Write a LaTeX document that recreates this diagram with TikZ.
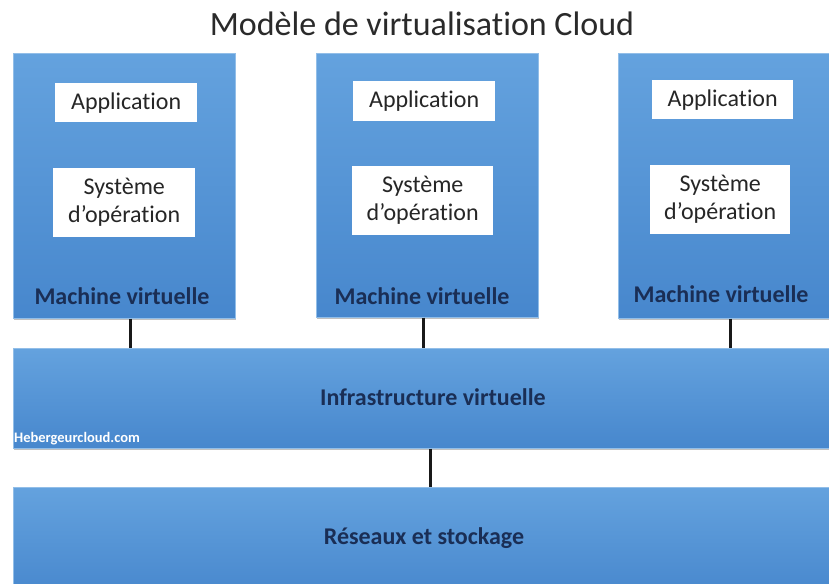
\documentclass[tikz,border=0pt]{standalone}
\usepackage{fontspec}
\setmainfont{Carlito}[Ligatures=NoCommon]
\usetikzlibrary{shadows}
\definecolor{boxtop}{HTML}{64A2DE}
\definecolor{boxbot}{HTML}{4787CD}
\definecolor{navy}{HTML}{1A2E55}
\definecolor{txt}{HTML}{262626}
\definecolor{ttl}{HTML}{2A2A2A}
\tikzset{
  bluebox/.style={anchor=north west, inner sep=0pt, top color=boxtop, bottom color=boxbot,
    draw=boxtop!70!white, line width=0.6pt,
    drop shadow={opacity=0.35, shadow xshift=1pt, shadow yshift=-2pt, fill=black!70}},
  whitebox/.style={anchor=north west, fill=white, inner sep=0pt, align=center,
    font=\fontsize{24}{28}\selectfont, text=txt},
  vmlabel/.style={font=\bfseries\fontsize{24}{26}\selectfont, text=navy},
  biglabel/.style={font=\bfseries\fontsize{24}{26}\selectfont, text=navy},
  titlestyle/.style={font=\fontsize{34}{38}\selectfont},
  link/.style={line width=2.6pt, black!90}
}
\begin{document}
\begin{tikzpicture}[x=1pt,y=-1pt]
\useasboundingbox (0,0) rectangle (829,583);
\clip (0,0) rectangle (829,583);
\fill[white] (0,0) rectangle (829,583);
% title
\node[titlestyle, text=ttl] (title) at (422,24) {Modèle de virtualisation Cloud};
% virtual machines
\node[bluebox, minimum width=222pt, minimum height=265pt] (vm1) at (13,53) {};
\node[bluebox, minimum width=222pt, minimum height=264pt] (vm2) at (316,53) {};
\node[bluebox, minimum width=222pt, minimum height=265pt] (vm3) at (618,53) {};
% applications
\node[whitebox, minimum width=142pt, minimum height=39pt] (app1) at (55,83) {Application};
\node[whitebox, minimum width=142pt, minimum height=40pt] (app2) at (353,81) {Application};
\node[whitebox, minimum width=141pt, minimum height=39pt] (app3) at (652,80) {Application};
% OS
\node[whitebox, minimum width=142pt, minimum height=69pt] (os1) at (53,168) {Système\\d’opération};
\node[whitebox, minimum width=141pt, minimum height=69pt] (os2) at (352,166) {Système\\d’opération};
\node[whitebox, minimum width=140pt, minimum height=69pt] (os3) at (650,165) {Système\\d’opération};
% VM labels
\node[vmlabel] (lab1) at (122,296) {Machine virtuelle};
\node[vmlabel] (lab2) at (422,296) {Machine virtuelle};
\node[vmlabel] (lab3) at (721,294) {Machine virtuelle};
% infrastructure
\node[bluebox, minimum width=840pt, minimum height=100pt] (infra) at (13,348) {};
\node[biglabel] (infralab) at (433,397) {Infrastructure virtuelle};
\node[anchor=west, inner sep=0pt, text=white, font=\bfseries\fontsize{14.5}{16}\selectfont] (wm) at (14,439) {Hebergeurcloud.com};
% network and storage
\node[bluebox, minimum width=840pt, minimum height=110pt] (net) at (13,487) {};
\node[biglabel] (netlab) at (424,538) {Réseaux et stockage};
% connectors
\draw[link] ([xshift=6pt]vm1.south) -- ([xshift=6pt]vm1.south |- infra.north);
\draw[link] ([xshift=-4pt]vm2.south) -- ([xshift=-4pt]vm2.south |- infra.north);
\draw[link] ([xshift=1pt]vm3.south) -- ([xshift=1pt]vm3.south |- infra.north);
\draw[link] ([xshift=-3pt]infra.south) -- ([xshift=-3pt]infra.south |- net.north);
\end{tikzpicture}
\end{document}
